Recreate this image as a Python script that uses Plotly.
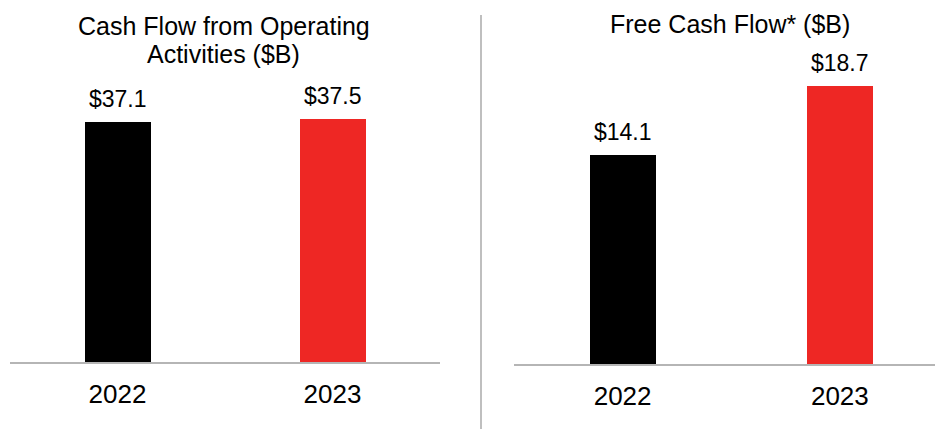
import plotly.graph_objects as go

years = ["2022", "2023"]
cfo_values = [37.1, 37.5]
fcf_values = [14.1, 18.7]
cfo_labels = ["$37.1", "$37.5"]
fcf_labels = ["$14.1", "$18.7"]
bar_colors = ["#000000", "#EE2724"]
title_left = ["Cash Flow from Operating", "Activities ($B)"]
title_right = "Free Cash Flow* ($B)"

W, H = 935, 429
FONT = "Liberation Sans, Arial, sans-serif"

def py(p):
    return 1 - p / H

fig = go.Figure()
fig.add_trace(go.Bar(x=years, y=cfo_values, marker=dict(color=bar_colors, line=dict(width=0)),
                     width=0.307, xaxis="x", yaxis="y", showlegend=False, hoverinfo="skip"))
fig.add_trace(go.Bar(x=years, y=fcf_values, marker=dict(color=bar_colors, line=dict(width=0)),
                     width=0.304, xaxis="x2", yaxis="y2", showlegend=False, hoverinfo="skip"))

annotations = []
for i, (v, t) in enumerate(zip(cfo_values, cfo_labels)):
    annotations.append(dict(x=i, y=v, xref="x", yref="y", text=t, showarrow=False,
                            yanchor="bottom", yshift=8, font=dict(size=23, color="#000", family=FONT)))
for i, (v, t) in enumerate(zip(fcf_values, fcf_labels)):
    annotations.append(dict(x=i, y=v, xref="x2", yref="y2", text=t, showarrow=False,
                            yanchor="bottom", yshift=8, font=dict(size=23, color="#000", family=FONT)))

annotations.append(dict(x=223.5 / W, y=py(26), xref="paper", yref="paper", text=title_left[0],
                        showarrow=False, xanchor="center", yanchor="middle",
                        font=dict(size=25, color="#000", family=FONT)))
annotations.append(dict(x=223.5 / W, y=py(54), xref="paper", yref="paper", text=title_left[1],
                        showarrow=False, xanchor="center", yanchor="middle",
                        font=dict(size=25, color="#000", family=FONT)))
annotations.append(dict(x=729.5 / W, y=py(24), xref="paper", yref="paper", text=title_right,
                        showarrow=False, xanchor="center", yanchor="middle",
                        font=dict(size=25, color="#000", family=FONT)))

axis_common = dict(type="category", showline=True, linecolor="#B5B5B5", linewidth=2,
                   showgrid=False, zeroline=False, ticks="outside", ticklen=8,
                   tickcolor="rgba(0,0,0,0)", tickfont=dict(size=26, color="#000", family=FONT),
                   fixedrange=True)

fig.update_layout(
    width=W, height=H,
    margin=dict(l=0, r=0, t=0, b=0),
    paper_bgcolor="white", plot_bgcolor="white",
    xaxis=dict(domain=[10 / W, 440 / W], range=[-0.5, 1.5], anchor="y", **axis_common),
    yaxis=dict(domain=[py(362), 1], range=[0, 362 / 6.47], visible=False, fixedrange=True),
    xaxis2=dict(domain=[514 / W, 1], range=[-0.5, 1.438], anchor="y2", **axis_common),
    yaxis2=dict(domain=[py(364), 1], range=[0, 364 / 14.85], visible=False, fixedrange=True, anchor="x2"),
    annotations=annotations,
    shapes=[dict(type="line", xref="paper", yref="paper", x0=481 / W, x1=481 / W,
                 y0=0, y1=py(15), line=dict(color="#AAAAAA", width=1.5))],
    bargap=0,
)

fig.write_html("out.html")
